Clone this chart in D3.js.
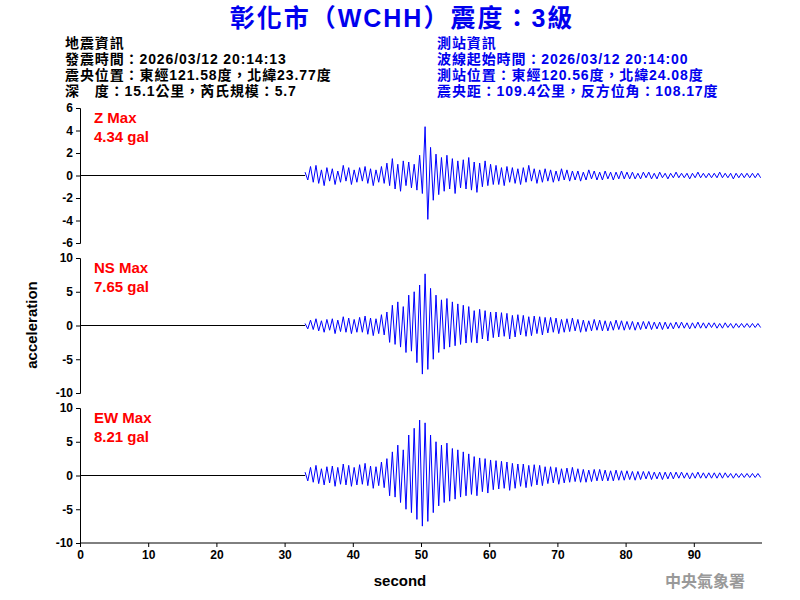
<!DOCTYPE html>
<html><head><meta charset="utf-8">
<script src="https://cdn.jsdelivr.net/npm/d3@7"></script>
<style>body{margin:0;background:#fff}text{font-family:Arial,"Liberation Sans","Noto Sans CJK TC",sans-serif}</style>
</head><body><svg id="c" width="800" height="600"></svg>
<script>
const startTime = 33, step = 0.4;
const xTicks = [0,10,20,30,40,50,60,70,80,90];
const zTicks = [-6,-4,-2,0,2,4,6];
const hTicks = [-10,-5,0,5,10];
const traceNames = ["Z Max","NS Max","EW Max"];
const traceMax = ["4.34 gal","7.65 gal","8.21 gal"];
const zData = [0.3,-0.4,0.8,-0.6,0.9,-0.7,0.5,-0.9,0.7,-0.5,0.6,-0.8,0.4,-0.6,0.9,-0.5,0.7,-0.8,0.5,-0.6,0.7,-0.5,0.8,-0.7,0.6,-0.9,0.5,-0.6,0.8,-0.7,1.1,-0.9,1.5,-1.2,1.0,-1.4,1.3,-0.9,1.2,-1.1,1.0,-1.3,1.8,-1.6,4.34,-3.9,2.5,-2.2,1.9,-1.7,1.6,-1.4,1.8,-1.2,1.5,-1.6,1.3,-1.1,1.4,-1.2,1.6,-1.3,1.2,-1.5,1.1,-1.0,1.3,-0.9,1.0,-0.8,0.9,-0.8,0.7,-0.9,0.8,-0.6,0.7,-0.7,0.6,-0.8,0.7,-0.6,0.9,-0.5,0.6,-0.7,0.5,-0.6,0.6,-0.5,0.5,-0.6,0.4,-0.5,0.6,-0.4,0.5,-0.5,0.4,-0.4,0.4,-0.5,0.3,-0.4,0.5,-0.3,0.4,-0.4,0.3,-0.4,0.4,-0.3,0.3,-0.4,0.3,-0.3,0.4,-0.3,0.3,-0.3,0.3,-0.3,0.2,-0.3,0.3,-0.2,0.3,-0.3,0.2,-0.3,0.3,-0.2,0.2,-0.3,0.2,-0.2,0.3,-0.2,0.2,-0.2,0.2,-0.3,0.2,-0.2,0.3,-0.2,0.2,-0.2,0.2,-0.2,0.2,-0.2,0.3,-0.2,0.2,-0.2,0.2,-0.3,0.2,-0.2,0.2,-0.2,0.2,-0.2,0.2,-0.2,0.2,-0.2];
const nsData = [0.3,-0.5,0.8,-0.6,1.0,-0.8,0.7,-1.0,0.9,-0.7,1.0,-1.2,0.8,-0.9,1.3,-1.0,1.1,-1.2,0.9,-1.0,1.2,-1.0,1.4,-1.3,1.1,-1.5,1.0,-1.2,1.6,-1.4,2.0,-2.5,3.0,-2.8,3.5,-3.2,2.8,-4.0,4.5,-3.8,5.0,-5.5,6.0,-7.2,7.65,-6.5,5.5,-5.0,4.5,-4.0,3.8,-3.5,4.0,-3.2,3.5,-3.0,3.2,-2.8,3.0,-2.6,2.8,-2.5,2.2,-2.6,2.4,-2.0,2.2,-2.3,2.0,-1.8,2.0,-1.7,1.9,-1.6,1.8,-2.0,1.5,-1.7,1.6,-1.4,1.5,-1.6,1.3,-1.5,1.4,-1.2,1.3,-1.4,1.2,-1.1,1.2,-1.0,1.1,-1.2,0.9,-1.0,1.0,-0.9,1.1,-0.8,0.9,-1.0,0.8,-0.9,0.7,-0.8,0.9,-0.7,0.8,-0.8,0.7,-0.8,0.6,-0.7,0.8,-0.6,0.7,-0.7,0.6,-0.6,0.6,-0.7,0.5,-0.6,0.6,-0.5,0.6,-0.6,0.5,-0.5,0.5,-0.6,0.5,-0.5,0.4,-0.5,0.5,-0.4,0.5,-0.4,0.4,-0.5,0.4,-0.4,0.5,-0.4,0.4,-0.4,0.4,-0.3,0.4,-0.4,0.3,-0.4,0.4,-0.3,0.3,-0.4,0.3,-0.3,0.3,-0.3,0.3,-0.3,0.3,-0.3,0.3,-0.3];
const ewData = [0.5,-0.8,1.2,-1.0,1.5,-1.2,1.0,-1.4,1.3,-1.1,1.4,-1.6,1.2,-1.3,1.7,-1.4,1.5,-1.6,1.2,-1.4,1.6,-1.3,1.8,-1.5,1.4,-1.9,1.3,-1.5,2.0,-1.8,2.5,-3.0,3.5,-3.2,4.5,-4.0,3.8,-5.0,6.0,-5.5,7.0,-6.5,8.21,-7.5,7.8,-6.8,6.0,-5.5,5.0,-4.5,4.5,-4.0,4.8,-3.8,4.0,-3.5,3.8,-3.2,3.5,-3.0,3.2,-2.8,2.8,-3.0,2.6,-2.4,2.5,-2.6,2.3,-2.1,2.2,-2.0,2.1,-1.9,2.0,-2.2,1.8,-1.9,1.7,-1.6,1.7,-1.8,1.5,-1.6,1.6,-1.4,1.5,-1.5,1.3,-1.2,1.3,-1.1,1.2,-1.3,1.0,-1.1,1.1,-1.0,1.2,-0.9,1.0,-1.0,0.9,-1.0,0.8,-0.9,0.9,-0.8,0.9,-0.8,0.8,-0.8,0.7,-0.8,0.8,-0.7,0.7,-0.7,0.7,-0.6,0.6,-0.7,0.6,-0.6,0.6,-0.5,0.6,-0.6,0.5,-0.5,0.5,-0.6,0.5,-0.5,0.5,-0.5,0.5,-0.4,0.5,-0.4,0.4,-0.5,0.4,-0.4,0.5,-0.4,0.4,-0.4,0.4,-0.4,0.4,-0.4,0.4,-0.4,0.4,-0.3,0.3,-0.4,0.3,-0.3,0.3,-0.3,0.3,-0.3,0.3,-0.3,0.3,-0.3];
const headLeft = ["地震資訊","發震時間：2026/03/12 20:14:13","震央位置：東經121.58度，北緯23.77度","深　度：15.1公里，芮氏規模：5.7"];
const headRight = ["測站資訊","波線起始時間：2026/03/12 20:14:00","測站位置：東經120.56度，北緯24.08度","震央距：109.4公里，反方位角：108.17度"];

const svg = d3.select("#c");
const x = d3.scaleLinear().domain([0,100]).range([80,762]);
const fmt = d => String(d);
svg.append("text").attr("x",402).attr("y",27).attr("text-anchor","middle").attr("fill","#0000ee")
  .attr("font-size",25).attr("font-weight","bold").attr("letter-spacing",2).text("彰化市（WCHH）震度：3級");
headLeft.forEach((t,i)=>svg.append("text").attr("x",65).attr("y",48+i*16).attr("font-size",14).attr("letter-spacing",0.9).attr("font-weight","bold").attr("fill","#000").text(t));
headRight.forEach((t,i)=>svg.append("text").attr("x",437).attr("y",48+i*16).attr("font-size",14).attr("letter-spacing",0.9).attr("font-weight","bold").attr("fill","#0000ee").text(t));

const panels = [
 {data:zData, dom:[-6,6], top:108, bot:243, ticks:zTicks},
 {data:nsData, dom:[-10,10], top:258, bot:393, ticks:hTicks},
 {data:ewData, dom:[-10,10], top:408, bot:543, ticks:hTicks}];
panels.forEach((p,i)=>{
  const y = d3.scaleLinear().domain(p.dom).range([p.bot,p.top]);
  const g = svg.append("g").attr("transform","translate(80,0)")
    .call(d3.axisLeft(y).tickValues(p.ticks).tickSize(4).tickFormat(fmt));
  g.selectAll("text").attr("font-size",12).attr("font-weight","bold").attr("fill","#000");
  g.select(".domain").attr("stroke","#000");
  svg.append("line").attr("x1",x(0)).attr("x2",x(startTime)).attr("y1",y(0)).attr("y2",y(0)).attr("stroke","#000");
  const line = d3.line().x((d,k)=>x(startTime+k*step)).y(d=>y(d));
  svg.append("path").attr("d",line(p.data)).attr("fill","none").attr("stroke","#0000ff").attr("stroke-width",1);
  svg.append("text").attr("x",94).attr("y",p.top+15).attr("fill","#ff0000").attr("font-size",15).attr("font-weight","bold").text(traceNames[i]);
  svg.append("text").attr("x",94).attr("y",p.top+34).attr("fill","#ff0000").attr("font-size",15).attr("font-weight","bold").text(traceMax[i]);
});
const gx = svg.append("g").attr("transform","translate(0,543)")
  .call(d3.axisBottom(x).tickValues(xTicks).tickSize(4).tickFormat(fmt));
gx.selectAll("text").attr("font-size",12).attr("font-weight","bold");
gx.select(".domain").attr("d","M80,0H762");
svg.append("text").attr("x",400).attr("y",586).attr("text-anchor","middle").attr("font-size",15).attr("font-weight","bold").text("second");
svg.append("text").attr("transform","translate(37,325) rotate(-90)").attr("text-anchor","middle").attr("font-size",15).attr("font-weight","bold").text("acceleration");
svg.append("text").attr("x",745).attr("y",587).attr("text-anchor","end").attr("font-size",16).attr("font-weight","bold").attr("fill","#999").attr("font-family","Noto Serif CJK TC,Noto Sans CJK TC").text("中央氣象署");
</script></body></html>
